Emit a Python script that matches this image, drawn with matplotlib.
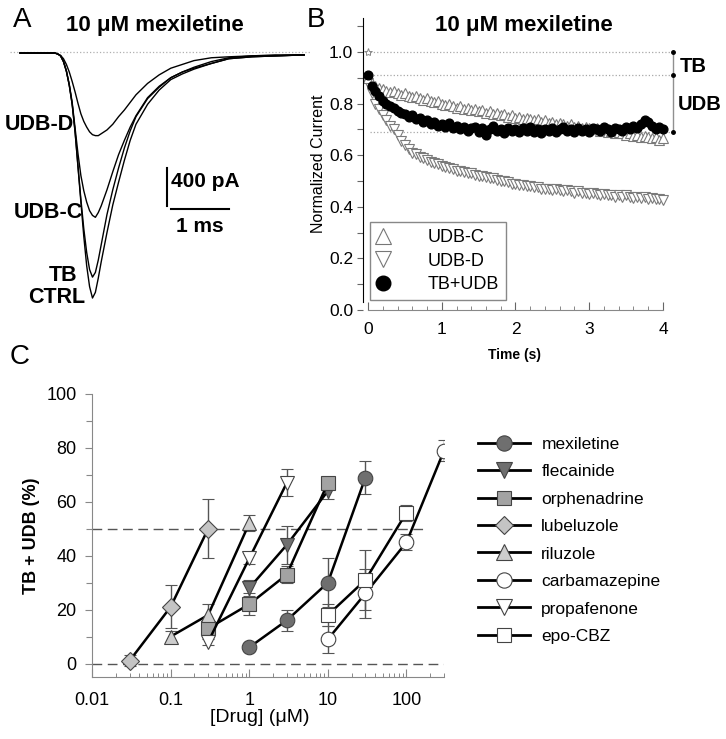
import matplotlib
matplotlib.use('Agg')
import matplotlib.pyplot as plt
import numpy as np
from matplotlib.lines import Line2D
from matplotlib.ticker import MultipleLocator, LogLocator, NullFormatter, FixedLocator, FixedFormatter

plt.rcParams['font.family'] = ['Liberation Sans', 'DejaVu Sans']

W, H = 726, 739

# ---- panel A: current traces (ms, pA) ----
trace_t = [0, 0.3, 0.6, 0.65, 0.7, 0.75, 0.8, 0.85, 0.9, 0.95, 1.0, 1.05, 1.1, 1.15,
           1.2, 1.25, 1.3, 1.35, 1.4, 1.5, 1.6, 1.7, 1.8, 1.9, 2.0, 2.2, 2.4, 2.6,
           2.8, 3.0, 3.3, 3.6, 4.0, 4.4, 4.9]
ctrl = [0, 0, 0, -10, -30, -90, -190, -340, -540, -830, -1200, -1570, -1930, -2240,
        -2460, -2580, -2520, -2370, -2200, -1890, -1600, -1360, -1130, -920, -750, -540,
        -390, -280, -220, -170, -110, -60, -40, -30, -20]
tb = [0, 0, 0, -10, -30, -90, -190, -340, -540, -830, -1190, -1540, -1850, -2100,
      -2280, -2360, -2310, -2180, -2020, -1700, -1440, -1210, -1000, -820, -670, -480,
      -360, -260, -200, -150, -90, -50, -30, -20, -20]
udb_c = [0, 0, 0, -10, -30, -90, -190, -330, -520, -790, -1060, -1290, -1450, -1570,
         -1660, -1710, -1730, -1680, -1610, -1440, -1250, -1070, -920, -780, -660, -470,
         -350, -260, -200, -160, -110, -60, -40, -30, -20]
udb_d = [0, 0, 0, -10, -25, -60, -120, -200, -300, -410, -530, -640, -720, -780,
         -830, -860, -870, -870, -850, -810, -750, -670, -600, -520, -440, -320,
         -230, -160, -120, -80, -50, -40, -30, -30, -20]
trace_names = ['UDB-D', 'UDB-C', 'TB', 'CTRL']

# ---- panel B: normalized current vs time (s), sampled every 50 ms ----
dt_b = 0.05
b_udb_c = [0.90, 0.88, 0.87, 0.86, 0.855, 0.85, 0.845, 0.85, 0.84, 0.835,
           0.84, 0.83, 0.825, 0.83, 0.82, 0.815, 0.82, 0.81, 0.805, 0.81,
           0.80, 0.795, 0.80, 0.79, 0.785, 0.79, 0.78, 0.785, 0.775, 0.78,
           0.77, 0.775, 0.765, 0.77, 0.76, 0.765, 0.755, 0.76, 0.75, 0.755,
           0.745, 0.75, 0.74, 0.745, 0.74, 0.735, 0.74, 0.73, 0.735, 0.725,
           0.73, 0.72, 0.725, 0.72, 0.715, 0.72, 0.71, 0.715, 0.705, 0.71,
           0.705, 0.70, 0.705, 0.695, 0.70, 0.69, 0.695, 0.685, 0.69, 0.685,
           0.68, 0.685, 0.675, 0.68, 0.67, 0.675, 0.67, 0.665, 0.67, 0.66,
           0.665]
b_udb_d = [0.88, 0.84, 0.80, 0.78, 0.755, 0.735, 0.715, 0.70, 0.68, 0.655,
           0.64, 0.625, 0.61, 0.605, 0.595, 0.59, 0.58, 0.575, 0.57, 0.565,
           0.56, 0.555, 0.55, 0.545, 0.54, 0.54, 0.535, 0.53, 0.53, 0.525,
           0.52, 0.52, 0.515, 0.51, 0.51, 0.505, 0.50, 0.50, 0.495, 0.49,
           0.49, 0.485, 0.485, 0.48, 0.48, 0.475, 0.475, 0.47, 0.47, 0.47,
           0.465, 0.47, 0.465, 0.46, 0.465, 0.46, 0.455, 0.46, 0.455, 0.455,
           0.45, 0.455, 0.45, 0.445, 0.45, 0.445, 0.445, 0.44, 0.445, 0.44,
           0.445, 0.44, 0.435, 0.44, 0.435, 0.44, 0.43, 0.435, 0.43, 0.43,
           0.425]
b_tb_udb = [0.91, 0.87, 0.85, 0.83, 0.81, 0.80, 0.79, 0.785, 0.77, 0.765,
            0.76, 0.75, 0.755, 0.74, 0.745, 0.73, 0.735, 0.72, 0.73, 0.715,
            0.72, 0.71, 0.725, 0.705, 0.715, 0.70, 0.71, 0.695, 0.705, 0.71,
            0.69, 0.705, 0.68, 0.70, 0.715, 0.695, 0.70, 0.685, 0.705, 0.695,
            0.70, 0.69, 0.705, 0.695, 0.71, 0.69, 0.70, 0.685, 0.70, 0.695,
            0.705, 0.69, 0.70, 0.71, 0.695, 0.70, 0.69, 0.705, 0.695, 0.70,
            0.69, 0.705, 0.70, 0.695, 0.71, 0.70, 0.69, 0.705, 0.70, 0.695,
            0.71, 0.70, 0.715, 0.705, 0.72, 0.735, 0.73, 0.715, 0.70, 0.71,
            0.70]
ctrl_level = 1.0
tb_level = 0.91
udb_level = 0.69

# ---- panel C: concentration-response (uM, %) ----
drugs = ['mexiletine', 'flecainide', 'orphenadrine', 'lubeluzole',
         'riluzole', 'carbamazepine', 'propafenone', 'epo-CBZ']
conc = {
    'mexiletine':    [1, 3, 10, 30],
    'flecainide':    [1, 3, 10],
    'orphenadrine':  [0.3, 1, 3, 10],
    'lubeluzole':    [0.03, 0.1, 0.3],
    'riluzole':      [0.1, 0.3, 1],
    'carbamazepine': [10, 30, 100, 300],
    'propafenone':   [0.3, 1, 3],
    'epo-CBZ':       [10, 30, 100],
}
block = {
    'mexiletine':    [6, 16, 30, 69],
    'flecainide':    [28, 44, 64],
    'orphenadrine':  [13, 22, 33, 67],
    'lubeluzole':    [1, 21, 50],
    'riluzole':      [10, 18, 52],
    'carbamazepine': [9, 26, 45, 79],
    'propafenone':   [8, 39, 67],
    'epo-CBZ':       [18, 31, 56],
}
sem = {
    'mexiletine':    [1, 4, 9, 6],
    'flecainide':    [3, 7, 3],
    'orphenadrine':  [3, 4, 3, 2],
    'lubeluzole':    [2, 8, 11],
    'riluzole':      [2, 4, 3],
    'carbamazepine': [5, 9, 3, 4],
    'propafenone':   [1, 2, 5],
    'epo-CBZ':       [4, 11, 3],
}
style = {
    'mexiletine':    ('o', '#6f6f6f', 10.5),
    'flecainide':    ('v', '#6f6f6f', 10.5),
    'orphenadrine':  ('s', '#a3a3a3', 9.5),
    'lubeluzole':    ('D', '#c4c4c4', 9),
    'riluzole':      ('^', '#cdcdcd', 10.5),
    'carbamazepine': ('o', 'white', 10.5),
    'propafenone':   ('v', 'white', 10.5),
    'epo-CBZ':       ('s', 'white', 9.5),
}
x_ticks_c = [0.01, 0.1, 1, 10, 100]
x_labels_c = ['0.01', '0.1', '1', '10', '100']
half_line_end = 190


def box(x0, y0, x1, y1):
    # pixel box with top-left origin -> figure fraction rect
    return [x0 / W, 1 - y1 / H, (x1 - x0) / W, (y1 - y0) / H]


fig = plt.figure(figsize=(W / 100, H / 100), dpi=100)

# ================= panel A =================
axA = fig.add_axes(box(10, 40, 310, 310))
axA.set_xlim(-0.172, 5.0)
axA.set_ylim(-2706, 137)
axA.axis('off')
axA.axhline(10, color='#b0b0b0', ls=':', lw=0.9)
for y in [ctrl, tb, udb_c, udb_d]:
    axA.plot(trace_t, y, color='black', lw=1.0)
# scale bar 400 pA / 1 ms
axA.plot([2.53, 2.53], [-1210, -1610], color='black', lw=1.5)
axA.plot([2.6, 3.6], [-1640, -1640], color='black', lw=1.5)
axA.text(2.6, -1350, '400 pA', fontsize=15, fontweight='bold', ha='left', va='center')
axA.text(3.1, -1830, '1 ms', fontsize=15, fontweight='bold', ha='center', va='center')

for name, (xr, yc) in zip(trace_names, [(74, 125), (83, 213), (77, 276), (85, 297)]):
    fig.text(xr / W, 1 - yc / H, name, fontsize=15.5, fontweight='bold', ha='right', va='center')

fig.text(13 / W, 1 - 20 / H, 'A', fontsize=20, ha='left', va='center')
fig.text(155 / W, 1 - 25 / H, '10 μM mexiletine', fontsize=16, fontweight='bold',
         ha='center', va='center')

# ================= panel B =================
axB = fig.add_axes(box(363, 18, 673, 310))
t_b = np.arange(len(b_udb_c)) * dt_b
axB.set_xlim(-0.068, 4.136)
axB.set_ylim(0, 1.132)
axB.hlines([ctrl_level, tb_level, udb_level], 0.027, 4.136, colors='#a8a8a8',
           linestyles=':', lw=0.9)
axB.plot(t_b, b_udb_d, linestyle='none', marker='v', ms=6.5, mfc='white', mec='#7a7a7a', mew=0.8)
axB.plot(t_b, b_udb_c, linestyle='none', marker='^', ms=6.5, mfc='white', mec='#7a7a7a', mew=0.8)
axB.plot(t_b, b_tb_udb, linestyle='none', marker='o', ms=6.3, mfc='black', mec='black')
axB.plot([0], [ctrl_level], linestyle='none', marker='*', ms=6, mfc='white', mec='#888888', mew=0.7)

# bracket on the right
axB.plot([4.136, 4.136], [udb_level, ctrl_level], color='#909090', lw=1, clip_on=False)
axB.plot([4.136] * 3, [ctrl_level, tb_level, udb_level], linestyle='none', marker='o',
         ms=2.5, color='black', clip_on=False)
fig.text(680 / W, 1 - 66 / H, 'TB', fontsize=14.5, fontweight='bold', ha='left', va='center')
fig.text(678 / W, 1 - 104 / H, 'UDB', fontsize=14.5, fontweight='bold', ha='left', va='center')

for s in ['top', 'right']:
    axB.spines[s].set_visible(False)
axB.spines['left'].set_bounds(0.03, 1.132)
axB.spines['bottom'].set_bounds(0, 4)
axB.spines['bottom'].set_color('#888888')
axB.yaxis.set_major_locator(MultipleLocator(0.2))
axB.yaxis.set_minor_locator(MultipleLocator(0.1))
axB.yaxis.set_major_formatter(plt.FormatStrFormatter('%.1f'))
axB.xaxis.set_major_locator(MultipleLocator(1))
axB.xaxis.set_minor_locator(MultipleLocator(0.2))
axB.tick_params(axis='y', which='both', direction='out', length=4, width=0.8,
                labelsize=12.5, pad=3, color='#666666')
axB.tick_params(axis='x', which='major', direction='in', length=6, width=0.8,
                labelsize=12.5, pad=9, color='#666666')
axB.tick_params(axis='x', which='minor', direction='in', length=3, width=0.7, color='#888888')
axB.set_ylabel('Normalized Current', fontsize=11.5, labelpad=2)
fig.text(515 / W, 1 - 355 / H, 'Time (s)', fontsize=10, fontweight='bold',
         ha='center', va='center')

b_handles = [
    Line2D([], [], linestyle='none', marker='^', ms=11, mfc='white', mec='#777777', mew=0.8),
    Line2D([], [], linestyle='none', marker='v', ms=11, mfc='white', mec='#777777', mew=0.8),
    Line2D([], [], linestyle='none', marker='o', ms=10.5, mfc='black', mec='black'),
]
legB = fig.legend(b_handles, ['UDB-C', 'UDB-D', 'TB+UDB'], loc='upper left',
                  bbox_to_anchor=(370 / W, 1 - 222 / H), fontsize=13, handlelength=0.6,
                  handletextpad=2.2, labelspacing=0.35, borderpad=0.4, borderaxespad=0,
                  fancybox=False, edgecolor='#888888', framealpha=1)
legB.get_frame().set_linewidth(1)

fig.text(307 / W, 1 - 20 / H, 'B', fontsize=20, ha='left', va='center')
fig.text(524 / W, 1 - 25 / H, '10 μM mexiletine', fontsize=16, fontweight='bold',
         ha='center', va='center')

# ================= panel C =================
axC = fig.add_axes(box(92, 394, 444, 677))
axC.set_xscale('log')
axC.set_xlim(0.01, 300)
axC.set_ylim(-5, 100)
axC.axhline(0, color='#555555', ls=(0, (7, 4)), lw=1)
axC.plot([0.01, half_line_end], [50, 50], color='#555555', ls=(0, (7, 4)), lw=1)

for d in drugs:
    m, fc, ms = style[d]
    axC.errorbar(conc[d], block[d], yerr=sem[d], fmt='-', color='black', lw=1.8,
                 marker=m, ms=ms, mfc=fc, mec='#444444', mew=0.8,
                 ecolor='#555555', elinewidth=1, capsize=4, capthick=1)

for s in ['top', 'right']:
    axC.spines[s].set_visible(False)
for s in ['left', 'bottom']:
    axC.spines[s].set_color('#888888')
axC.yaxis.set_major_locator(MultipleLocator(20))
axC.yaxis.set_minor_locator(MultipleLocator(10))
axC.xaxis.set_major_locator(FixedLocator(x_ticks_c))
axC.xaxis.set_major_formatter(FixedFormatter(x_labels_c))
axC.xaxis.set_minor_locator(LogLocator(base=10, subs=np.arange(2, 10)))
axC.xaxis.set_minor_formatter(NullFormatter())
axC.tick_params(axis='y', which='major', direction='out', length=5, width=0.8,
                labelsize=13, pad=6, color='#888888')
axC.tick_params(axis='y', which='minor', direction='out', length=4, width=0.8, color='#888888')
axC.tick_params(axis='x', which='major', direction='in', length=6, width=0.8,
                labelsize=13, pad=11, color='#888888')
axC.tick_params(axis='x', which='minor', direction='in', length=3, width=0.7, color='#888888')
axC.set_ylabel('TB + UDB (%)', fontsize=13, fontweight='bold', labelpad=5)
fig.text(260 / W, 1 - 717 / H, '[Drug] (μM)', fontsize=14, ha='center', va='center')

c_handles = []
for d in drugs:
    m, fc, ms = style[d]
    c_handles.append(Line2D([], [], color='black', lw=2, marker=m, ms=ms + 0.5,
                            mfc=fc, mec='#444444', mew=0.8))
fig.legend(c_handles, drugs, loc='upper left', bbox_to_anchor=(478 / W, 1 - 436.5 / H),
           frameon=False, fontsize=12.5, handlelength=3.0, handletextpad=0.65,
           labelspacing=0.71, borderpad=0, borderaxespad=0)

fig.text(10 / W, 1 - 357 / H, 'C', fontsize=20, ha='left', va='center')

fig.savefig('out.png', dpi=100)
